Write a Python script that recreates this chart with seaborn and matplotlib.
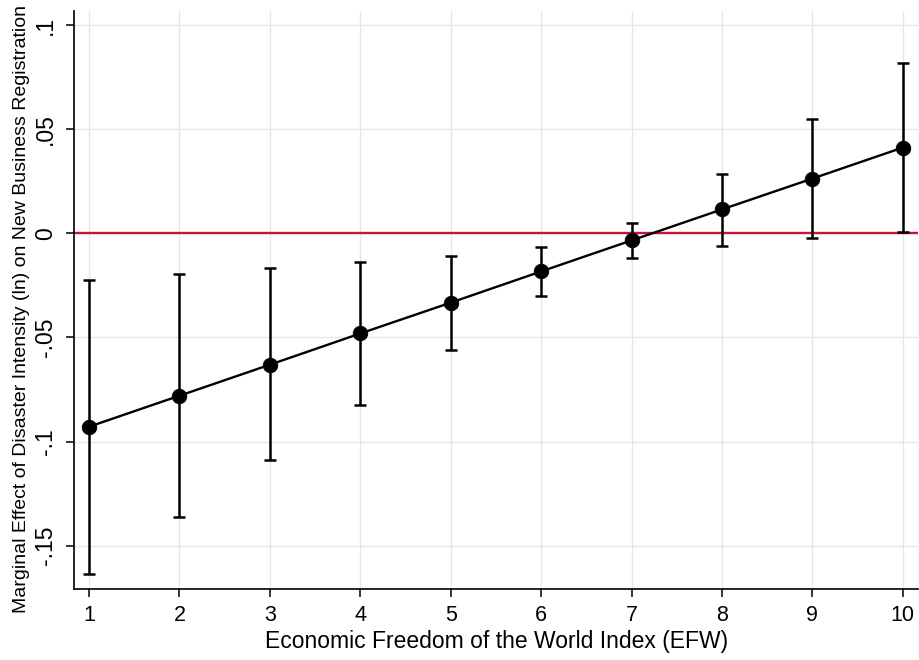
import matplotlib
matplotlib.use("Agg")
import matplotlib.pyplot as plt
import seaborn as sns
import numpy as np
import pandas as pd

efw = [1, 2, 3, 4, 5, 6, 7, 8, 9, 10]
effect = [-0.0929, -0.0780, -0.0631, -0.0481, -0.0333, -0.0183, -0.0034, 0.0115, 0.0263, 0.0412]
ci_low = [-0.1635, -0.1362, -0.1091, -0.0824, -0.0558, -0.0303, -0.0119, -0.0059, -0.0024, 0.0006]
ci_high = [-0.0224, -0.0197, -0.0167, -0.0139, -0.0107, -0.0066, 0.0050, 0.0287, 0.0551, 0.0819]
yticks = [-0.15, -0.1, -0.05, 0, 0.05, 0.1]
ytick_labels = ["-.15", "-.1", "-.05", "0", ".05", ".1"]

sns.set_theme(style="white")
plt.rcParams['font.family'] = ['Liberation Sans', 'DejaVu Sans']
plt.rcParams['text.color'] = 'black'
plt.rcParams['axes.labelcolor'] = 'black'
plt.rcParams['xtick.color'] = 'black'
plt.rcParams['ytick.color'] = 'black'

df = pd.DataFrame({"efw": efw, "effect": effect, "lo": ci_low, "hi": ci_high})

fig = plt.figure(figsize=(9.2, 6.6), dpi=100)
ax = fig.add_axes([0.0804, 0.108, 0.9176, 0.875])

ax.grid(True, color="#e6e6e6", linewidth=1.0)
ax.set_axisbelow(True)

ax.axhline(0, color="#c8143c", linewidth=1.7, zorder=2)

err_lo = df["effect"] - df["lo"]
err_hi = df["hi"] - df["effect"]
ax.errorbar(df["efw"], df["effect"], yerr=[err_lo, err_hi], fmt="none",
            ecolor="black", elinewidth=1.8, capsize=4.5, capthick=1.8, zorder=3)
sns.lineplot(data=df, x="efw", y="effect", ax=ax, color="black", linewidth=1.7,
             marker="o", markersize=10.5, markeredgewidth=0.6,
             markeredgecolor="black", zorder=4)

ax.set_xlim(0.834, 10.17)
ax.set_ylim(-0.1707, 0.1067)
ax.set_xticks(efw)
ax.set_xticklabels([str(v) for v in efw], fontsize=15.5)
ax.set_yticks(yticks)
ax.set_yticklabels(ytick_labels, fontsize=16.5, rotation=90, va="center")

ax.tick_params(axis="both", direction="out", length=6, width=1.1, color="black",
               labelcolor="black", bottom=True, left=True, pad=6)

for s in ["top", "right"]:
    ax.spines[s].set_visible(False)
for s in ["left", "bottom"]:
    ax.spines[s].set_color("black")
    ax.spines[s].set_linewidth(1.2)

ax.set_xlabel("Economic Freedom of the World Index (EFW)", fontsize=16.5,
              labelpad=2.5, color="black")
ax.set_ylabel("Marginal Effect of Disaster Intensity (ln) on New Business Registration",
              fontsize=14, color="black")
ax.yaxis.set_label_coords(-0.052, 0.4835)

fig.savefig("out.png", dpi=100)
